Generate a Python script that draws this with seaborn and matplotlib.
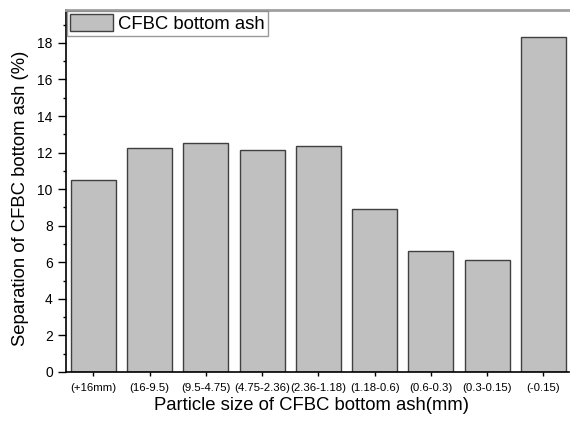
import matplotlib
matplotlib.use("Agg")
import matplotlib.pyplot as plt
import seaborn as sns
import pandas as pd
from matplotlib.ticker import MultipleLocator

categories = ["(+16mm)", "(16-9.5)", "(9.5-4.75)", "(4.75-2.36)", "(2.36-1.18)",
              "(1.18-0.6)", "(0.6-0.3)", "(0.3-0.15)", "(-0.15)"]
values = [10.5, 12.25, 12.53, 12.14, 12.36, 8.92, 6.62, 6.13, 18.33]
series_name = "CFBC bottom ash"

sns.set_theme(style="ticks")
plt.rcParams['font.family'] = ['Liberation Sans', 'DejaVu Sans']
plt.rcParams.update({'text.color': 'black', 'axes.labelcolor': 'black',
                     'xtick.color': 'black', 'ytick.color': 'black'})

df = pd.DataFrame({"size": categories, "sep": values})

fig = plt.figure(figsize=(5.7, 4.23), dpi=100)
ax = fig.add_axes([0.1158, 0.1206, 0.883, 0.8558])

sns.barplot(data=df, x="size", y="sep", color="#c0c0c0", saturation=1,
            edgecolor="#404040", linewidth=1.0, width=0.8, label=series_name, ax=ax)

ax.set_xlim(-0.485, 8.46)
ax.set_ylim(0, 19.8)
ax.yaxis.set_major_locator(MultipleLocator(2))
ax.yaxis.set_minor_locator(MultipleLocator(1))
ax.tick_params(axis='y', which='major', length=5.5, width=1, labelsize=10, pad=4, direction='out')
ax.tick_params(axis='y', which='minor', length=2.5, width=1, direction='out')
ax.tick_params(axis='x', which='major', length=3, width=1, labelsize=8.2, pad=5, direction='out')

ax.set_xlabel("Particle size of CFBC bottom ash(mm)", fontsize=13.3)
ax.set_ylabel("Separation of CFBC bottom ash (%)", fontsize=13.3)
ax.xaxis.set_label_coords(0.488, -0.068)
ax.yaxis.set_label_coords(-0.074, 0.48)

for s in ['left', 'bottom']:
    ax.spines[s].set_color('black')
    ax.spines[s].set_linewidth(1.2)
ax.spines['top'].set_color('#a0a0a0')
ax.spines['top'].set_linewidth(2)
ax.spines['right'].set_visible(False)

leg = ax.legend(loc='upper left', fontsize=13.3, frameon=True, fancybox=False,
                edgecolor='#808080', borderaxespad=0.08, handlelength=2.3,
                handleheight=1.0, borderpad=0.15, handletextpad=0.3)
leg.get_frame().set_linewidth(1.0)

fig.savefig("out.png", dpi=100)
